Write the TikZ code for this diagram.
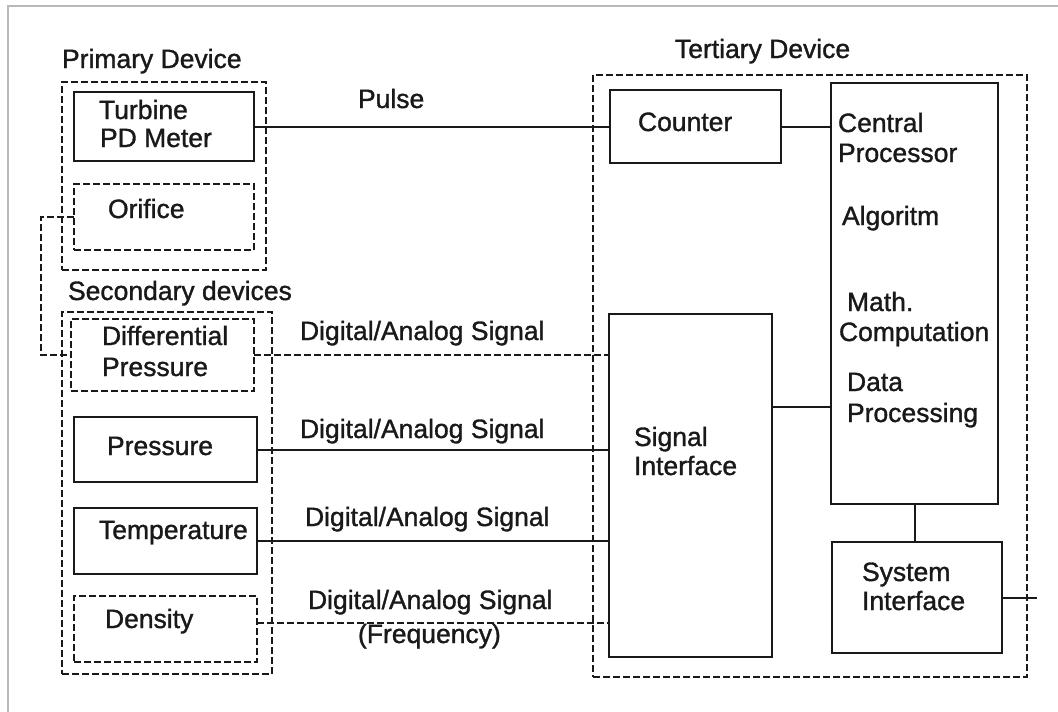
\documentclass[tikz,border=0pt]{standalone}
\usepackage{fontspec}
\setmainfont{Liberation Sans}[BoldFont={Liberation Sans}, BoldFeatures={FakeBold=1.2}]
\definecolor{framegray}{RGB}{185,185,185}
\definecolor{ink}{RGB}{25,25,25}
\tikzset{
  solidbox/.style={draw=ink, line width=2pt, inner sep=0pt, outer sep=0pt, rectangle},
  dashbox/.style={solidbox, dash pattern=on 7pt off 3pt},
  wire/.style={draw=ink, line width=2pt},
  dwire/.style={wire, dash pattern=on 7pt off 3pt},
  txt/.style={anchor=base west, inner sep=0pt, outer sep=0pt, font=\fontsize{26.5}{31}\selectfont\bfseries, text=ink},
}
\begin{document}
\begin{tikzpicture}[x=1pt,y=-1pt]
\useasboundingbox[fill=white] (0,0) rectangle (1058,712);
% frame
\draw[framegray, line width=2pt] (1058,6) -- (8,6) -- (8,712);

% boxes
\node[dashbox, minimum width=204pt, minimum height=188pt] (prim) at (164,176) {};
\node[solidbox, minimum width=180pt, minimum height=69pt] (turb) at (164,126.5) {};
\node[dashbox, minimum width=180pt, minimum height=66pt] (orif) at (164,217) {};
\node[dashbox, minimum width=210pt, minimum height=362pt] (sec) at (167,493) {};
\node[dashbox, minimum width=183pt, minimum height=72pt] (dp) at (162.5,355) {};
\node[solidbox, minimum width=183pt, minimum height=65pt] (pres) at (165.5,449.5) {};
\node[solidbox, minimum width=183pt, minimum height=66pt] (temp) at (165.5,541) {};
\node[dashbox, minimum width=183pt, minimum height=66pt] (dens) at (165.5,629) {};
\node[dashbox, minimum width=434pt, minimum height=602pt] (tert) at (810,376) {};
\node[solidbox, minimum width=171pt, minimum height=73pt] (count) at (695.5,126.5) {};
\node[solidbox, minimum width=167pt, minimum height=421pt] (cpu) at (914.5,293.5) {};
\node[solidbox, minimum width=163pt, minimum height=343pt] (sig) at (690.5,485.5) {};
\node[solidbox, minimum width=170pt, minimum height=111pt] (sys) at (917,597.5) {};

% connectors
\draw[wire] (turb.east) -- (turb.east -| count.west);
\draw[wire] (count.east) -- (count.east -| cpu.west);
\draw[dwire] (orif.west) -- ++(-33,0) coordinate (oc) |- (dp.west);
\draw[dwire] (dp.east) -- (dp.east -| sig.west);
\draw[wire] (pres.east) -- (pres.east -| sig.west);
\draw[wire] (temp.east) -- (temp.east -| sig.west);
\draw[dwire] ([yshift=6pt]dens.east) coordinate (de) -- (de -| sig.west);
\draw[wire] ([yshift=78.5pt]sig.east) coordinate (se) -- (se -| cpu.west);
\draw[wire] (cpu.south) -- (cpu.south |- sys.north);
\coordinate (out) at (1037,597.5);
\draw[wire] (sys.east) -- (out);

% texts
\node[txt] (tprim) at (62,68) {Primary Device};
\node[txt] (tturb1) at (99,119) {Turbine};
\node[txt] (tturb2) at (100,147) {PD Meter};
\node[txt] (torif) at (108,218) {Orifice};
\node[txt] (tsec) at (68,300) {Secondary devices};
\node[txt] (tdp1) at (102,345) {Differential};
\node[txt] (tdp2) at (102,376) {Pressure};
\node[txt] (tpres) at (107,455) {Pressure};
\node[txt] (ttemp) at (99,539) {Temperature};
\node[txt] (tdens) at (105,628) {Density};
\node[txt] (tpulse) at (358,108) {Pulse};
\node[txt] (ttert) at (675,58) {Tertiary Device};
\node[txt] (tcount) at (638,131) {Counter};
\node[txt] (tcpu1) at (838,132) {Central};
\node[txt] (tcpu2) at (838,162) {Processor};
\node[txt] (tcpu3) at (842,225) {Algoritm};
\node[txt] (tcpu4) at (847,311) {Math.};
\node[txt] (tcpu5) at (839,341) {Computation};
\node[txt] (tcpu6) at (847,391) {Data};
\node[txt] (tcpu7) at (847,422) {Processing};
\node[txt] (tsig1) at (634,446) {Signal};
\node[txt] (tsig2) at (634,475) {Interface};
\node[txt] (tsys1) at (862,581) {System};
\node[txt] (tsys2) at (862,610) {Interface};
\node[txt] (tdas1) at (300,340) {Digital/Analog Signal};
\node[txt] (tdas2) at (300,438) {Digital/Analog Signal};
\node[txt] (tdas3) at (305,526) {Digital/Analog Signal};
\node[txt] (tdas4) at (308,609) {Digital/Analog Signal};
\node[txt] (tfreq) at (358,643) {(Frequency)};
\end{tikzpicture}
\end{document}
